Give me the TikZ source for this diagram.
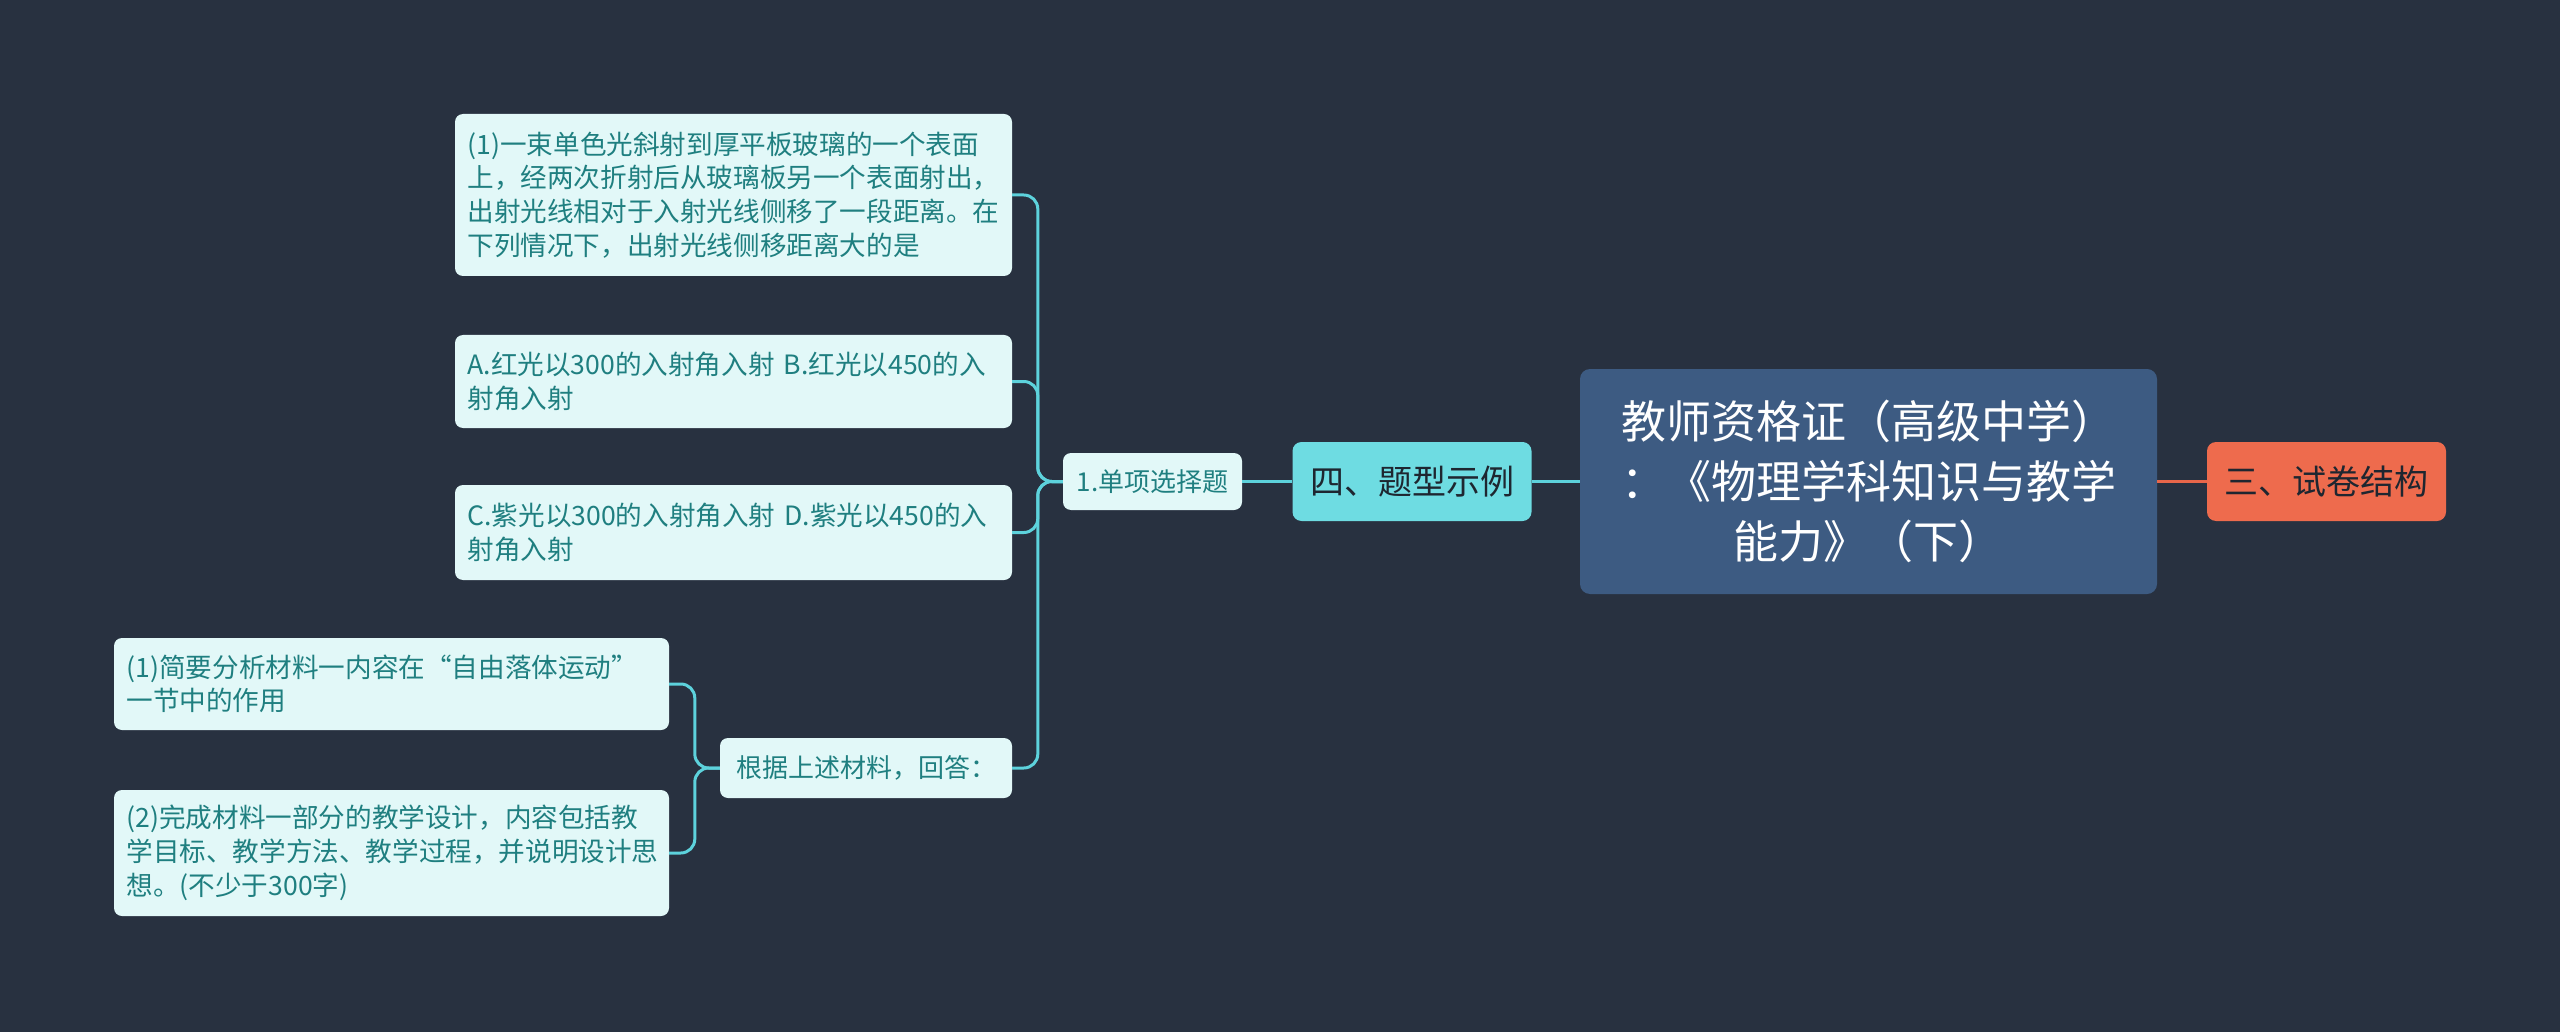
\documentclass[tikz,border=0pt]{standalone}
\usepackage{fontspec}
\setmainfont{Noto Sans CJK SC}
\definecolor{bgc}{HTML}{283140}
\definecolor{rootfill}{HTML}{3D5B82}
\definecolor{orangefill}{HTML}{EE6B4D}
\definecolor{cyanfill}{HTML}{6EDCE2}
\definecolor{leaffill}{HTML}{E2F8F8}
\definecolor{leaftext}{HTML}{1F7F80}
\definecolor{linecyan}{HTML}{5DD2DC}
\definecolor{linered}{HTML}{E8664A}
\definecolor{darktext}{HTML}{1E2630}
\begin{document}
\begin{tikzpicture}[x=1pt,y=-1pt,
  leaf/.style={rectangle, rounded corners=8pt, fill=leaffill, text=leaftext,
    font=\fontsize{26.6}{33.7}\selectfont, align=left, text width=532pt,
    inner xsep=12.5pt, inner ysep=6pt},
  subbox/.style={rectangle, rounded corners=8pt, fill=leaffill, text=leaftext,
    font=\fontsize{26}{33.7}\selectfont, align=center, inner sep=0pt},
  mainbox/.style={rectangle, rounded corners=9pt, text=darktext,
    font=\fontsize{34}{40}\selectfont, align=center, inner sep=0pt,
    minimum width=239pt, minimum height=79pt},
  rootbox/.style={rectangle, rounded corners=10pt, fill=rootfill, text=white,
    font=\fontsize{45}{60}\selectfont, align=center, inner sep=0pt,
    minimum width=577pt, minimum height=225pt},
  link/.style={draw=linecyan, line width=3pt, rounded corners=14pt},
  straightlink/.style={draw=linecyan, line width=3pt},
  redlink/.style={draw=linered, line width=3pt}
]
\useasboundingbox (0,0) rectangle (2560,1032);
\fill[bgc] (0,0) rectangle (2560,1032);

% nodes
\node[rootbox] (root) at (1868.5,481.5) {教师资格证（高级中学）\\：《物理学科知识与教学\\能力》（下）};
\node[mainbox, fill=orangefill] (san) at (2326.5,481.5) {三、试卷结构};
\node[mainbox, fill=cyanfill] (si) at (1412,481.5) {四、题型示例};
\node[subbox, minimum width=179pt, minimum height=57pt] (s1) at (1152.5,481.5) {1.单项选择题};

\node[leaf, minimum height=162pt] (q1) at (733.5,195) {(1)一束单色光斜射到厚平板玻璃的一个表面\\上，经两次折射后从玻璃板另一个表面射出，\\出射光线相对于入射光线侧移了一段距离。在\\下列情况下，出射光线侧移距离大的是};
\node[leaf, minimum height=93pt] (qa) at (733.5,381.5) {A.红光以300的入射角入射 B.红光以450的入\\射角入射};
\node[leaf, minimum height=95pt] (qc) at (733.5,532.5) {C.紫光以300的入射角入射 D.紫光以450的入\\射角入射};
\node[subbox, minimum width=292pt, minimum height=60pt] (g) at (866,768) {根据上述材料，回答：};
\node[leaf, text width=530pt, minimum height=92pt] (a1) at (391.5,684) {(1)简要分析材料一内容在“自由落体运动”\\一节中的作用};
\node[leaf, text width=530pt, minimum height=126pt] (a2) at (391.5,853) {(2)完成材料一部分的教学设计，内容包括教\\学目标、教学方法、教学过程，并说明设计思\\想。(不少于300字)};

% connectors
\draw[redlink] (root.east) -- (san.west);
\draw[straightlink] (root.west) -- (si.east);
\draw[straightlink] (si.west) -- (s1.east);
\foreach \c in {q1,qa,qc,g}{
  \draw[link] (s1.west) -- ([xshift=-25pt]s1.west) |- (\c.east);
}
\foreach \c in {a1,a2}{
  \draw[link] (g.west) -- ([xshift=-25pt]g.west) |- (\c.east);
}
\end{tikzpicture}
\end{document}
